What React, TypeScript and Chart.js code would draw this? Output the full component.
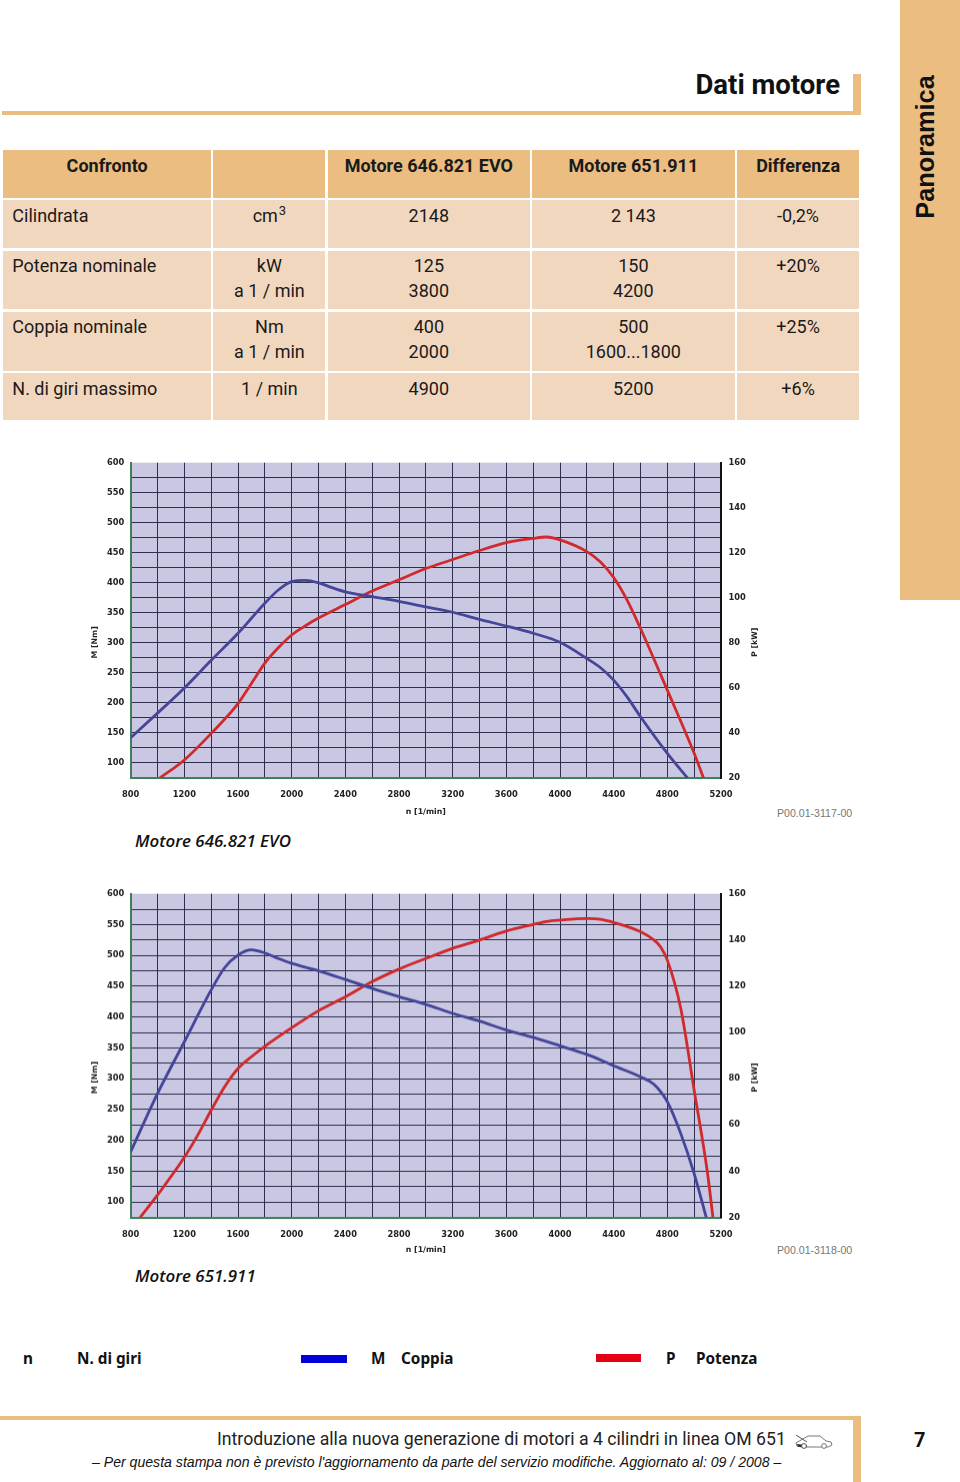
import React, { useEffect, useRef } from "react";
import { Chart, registerables } from "chart.js";

Chart.register(...registerables);

const rpmTorqueA = [800, 1000, 1200, 1400, 1600, 1700, 1800, 1900, 2000, 2100, 2200, 2300, 2400, 2600, 2800, 3000, 3200, 3400, 3600, 3800, 4000, 4200, 4300, 4400, 4500, 4600, 4800, 4950];
const torqueA = [142, 183, 225, 271, 316, 341, 366, 388, 402, 404, 400, 392, 385, 377, 369, 360, 351, 339, 328, 316, 301, 274, 259, 238, 210, 177, 116, 75];
const rpmPowerA = [1018, 1200, 1400, 1600, 1700, 1800, 1900, 2000, 2100, 2200, 2400, 2600, 2800, 3000, 3200, 3400, 3600, 3800, 3900, 4000, 4200, 4300, 4400, 4500, 4600, 4800, 5000, 5070];
const powerA = [20, 28, 39.8, 53, 62, 71, 77.8, 83.5, 87.5, 91, 97, 103, 108, 113, 117, 121, 124.5, 126.4, 127, 125.7, 120.5, 116, 109, 99, 86.4, 59, 31, 20];
const rpmTorqueB = [800, 1000, 1200, 1400, 1500, 1600, 1700, 1800, 1900, 2000, 2200, 2400, 2600, 2800, 3000, 3200, 3400, 3600, 3800, 4000, 4200, 4400, 4600, 4700, 4800, 4900, 5000, 5090];
const torqueB = [181.5, 276, 360, 444, 480, 500.5, 509, 504, 495, 487, 475, 461, 446.4, 433, 420.5, 406, 393.5, 379, 367, 353.4, 339.4, 321, 303, 291, 262.6, 211, 146, 75];
const rpmPowerB = [870, 1000, 1200, 1300, 1400, 1500, 1600, 1700, 1800, 2000, 2200, 2400, 2600, 2800, 3000, 3200, 3400, 3600, 3800, 3900, 4000, 4200, 4300, 4400, 4600, 4700, 4750, 4800, 4900, 5000, 5100, 5140];
const powerB = [20, 29.7, 46, 55.6, 66.4, 76.5, 84.4, 89.5, 94, 102, 109.4, 115.4, 122, 127.4, 132, 136.4, 140, 143.9, 146.7, 148, 148.6, 149.3, 149, 147.6, 143.6, 140, 137, 131.3, 110.4, 75, 39, 20];

const headerRow = ["Confronto", "", "Motore 646.821 EVO", "Motore 651.911", "Differenza"];
const tableRows = [
  ["Cilindrata", "cm^3", "2148", "2 143", "-0,2%"],
  ["Potenza nominale", "kW\na 1 / min", "125\n3800", "150\n4200", "+20%"],
  ["Coppia nominale", "Nm\na 1 / min", "400\n2000", "500\n1600...1800", "+25%"],
  ["N. di giri massimo", "1 / min", "4900", "5200", "+6%"],
];
const columnEdges = [[3.3, 211], [213.3, 325.5], [327.7, 530], [532, 734.7], [736.7, 859.5]];
const rowEdges = [[150.3, 198.3], [200, 248.3], [250.7, 309.3], [311.7, 370.7], [372.7, 420]];
const rowTextOffsets = [3.2, 3.0, 2.8, 2.8, 3.8];

const ORANGE = "#ebbd81";
const PEACH = "#f2d7bf";
const UI_FONT = "Roboto, sans-serif";
const LEGEND_FONT = "'Noto Sans', sans-serif";
const LABEL_FONT = "'Liberation Sans', sans-serif";
const AXIS_FONT = "DejaVu Sans";

const axisTitles = {
  id: "axisTitles",
  afterDraw(chart: any) {
    const { ctx, chartArea } = chart;
    const yMid = (chartArea.top + chartArea.bottom) / 2 + 22;
    ctx.save();
    ctx.font = `bold 7.8px '${AXIS_FONT}'`;
    ctx.fillStyle = "#222";
    ctx.textAlign = "center";
    ctx.textBaseline = "middle";
    [[chartArea.left - 35.5, "M [Nm]"], [chartArea.right + 34, "P [kW]"]].forEach(([x, label]: any) => {
      ctx.save();
      ctx.translate(x, yMid);
      ctx.rotate(-Math.PI / 2);
      ctx.fillText(label, 0, 0);
      ctx.restore();
    });
    ctx.restore();
  },
};

const plotFill = {
  id: "plotFill",
  beforeDraw(chart: any) {
    const { ctx, chartArea: a } = chart;
    ctx.save();
    ctx.fillStyle = "#c9c7e1";
    ctx.fillRect(a.left, a.top, a.right - a.left, a.bottom - a.top);
    ctx.restore();
  },
};

function EngineChart({ top, plotHeight, axisHeight, rpmT, torque, rpmP, power }: any) {
  const ref = useRef<HTMLCanvasElement>(null);
  const padTop = 12.7;
  const canvasLeft = 85;
  const width = 690;
  const height = padTop + plotHeight + axisHeight;
  useEffect(() => {
    const tickFont = { family: AXIS_FONT, size: 8.3, weight: "bold" as const };
    const chart = new Chart(ref.current!, {
      type: "line",
      data: {
        datasets: [
          {
            data: rpmT.map((x: number, i: number) => ({ x, y: torque[i] })),
            yAxisID: "m",
            borderColor: "#45459a",
            borderWidth: 2.8,
            pointRadius: 0,
            cubicInterpolationMode: "monotone",
          },
          {
            data: rpmP.map((x: number, i: number) => ({ x, y: power[i] })),
            yAxisID: "p",
            borderColor: "#d12a2c",
            borderWidth: 2.8,
            pointRadius: 0,
            cubicInterpolationMode: "monotone",
          },
        ],
      },
      options: {
        animation: false,
        responsive: false,
        layout: { padding: { top: padTop, left: 0, right: 0, bottom: 0 } },
        plugins: { legend: { display: false }, tooltip: { enabled: false } },
        scales: {
          x: {
            type: "linear",
            min: 800,
            max: 5200,
            afterFit: (s: any) => { s.height = axisHeight; },
            border: { color: "#3d8059", width: 2 },
            grid: { color: (c: any) => (c.tick && (c.tick.value === 800) ? "transparent" : "#2e2e4e"), lineWidth: 1, drawTicks: false },
            ticks: {
              stepSize: 200,
              autoSkip: false,
              maxRotation: 0,
              padding: 12,
              color: "#222",
              font: tickFont,
              callback: (v: any) => (Number(v) % 400 === 0 ? String(v) : ""),
            },
            title: { display: true, text: "n [1/min]", color: "#222", font: { family: AXIS_FONT, size: 7.8, weight: "bold" }, padding: 0 },
          },
          m: {
            type: "linear",
            position: "left",
            min: 75,
            max: 600,
            afterFit: (s: any) => { s.width = 130.7 - canvasLeft; },
            border: { color: "#3d8059", width: 2 },
            grid: { color: (c: any) => (c.tick && (c.tick.value === 600 || c.tick.value === 75) ? "transparent" : "#2e2e4e"), lineWidth: 1, drawTicks: false },
            ticks: {
              stepSize: 25,
              autoSkip: false,
              padding: 6.5,
              color: "#222",
              font: tickFont,
              callback: (v: any) => (Number(v) % 50 === 0 ? String(v) : ""),
            },
          },
          p: {
            type: "linear",
            position: "right",
            min: 20,
            max: 160,
            afterFit: (s: any) => { s.width = canvasLeft + width - 721; },
            border: { color: "#111", width: 2 },
            grid: { display: false, drawTicks: false },
            ticks: { stepSize: 20, padding: 7.5, color: "#222", font: tickFont },
          },
        },
      } as any,
      plugins: [plotFill, axisTitles],
    });
    return () => chart.destroy();
  }, []);
  return (
    <canvas
      ref={ref}
      width={width}
      height={height}
      style={{ position: "absolute", left: canvasLeft, top: top - padTop, width, height }}
    />
  );
}

const abs = (left: number, top: number, extra: any = {}) => ({ position: "absolute" as const, left, top, ...extra });

function Box({ x, y, w, h, color }: any) {
  return <div style={abs(x, y, { width: w, height: h, background: color })} />;
}

function Cell({ text, col, row, bold, left }: any) {
  const [x0, x1] = columnEdges[col];
  const [y0, y1] = rowEdges[row];
  const parts = String(text).split("^");
  return (
    <div
      style={abs(x0, y0, {
        width: x1 - x0,
        height: y1 - y0,
        background: row === 0 ? ORANGE : PEACH,
        boxSizing: "border-box",
        paddingTop: rowTextOffsets[row],
        paddingLeft: left ? 9 : 0,
        textAlign: left ? "left" : "center",
        whiteSpace: "pre",
        font: `${bold ? 700 : 400} 18px/25px ${UI_FONT}`,
        color: "#1a1a1a",
      })}
    >
      {parts[0]}
      {parts[1] ? <span style={{ fontSize: 13, position: "relative", top: -7, marginLeft: 1 }}>{parts[1]}</span> : null}
    </div>
  );
}

function Label({ x, y, children, style }: any) {
  return (
    <div style={abs(x, y, { transform: "translateY(-50%)", transformOrigin: "left center", whiteSpace: "pre", color: "#111", ...style })}>{children}</div>
  );
}

function Car() {
  return (
    <svg width="38" height="18" viewBox="0 0 38 18" style={abs(795, 1432)}>
      <path d="M1 11 L6 8 L13 4 L25 4 L31 9 L36 10 L37 13 L33 15 L7 15 L2 14 Z" fill="none" stroke="#777" strokeWidth="1" />
      <path d="M2 12 L12 13 L12 15 L3 15 Z" fill="#333" />
      <circle cx="9" cy="14" r="2.4" fill="#fff" stroke="#555" />
      <circle cx="29" cy="14" r="2.4" fill="#fff" stroke="#777" />
      <path d="M1 3 L12 10" stroke="#555" strokeWidth="1" />
    </svg>
  );
}

export default function App() {
  const legendFont = { font: `700 15.3px ${LEGEND_FONT}` };
  const captionFont = { font: `italic 600 16.9px 'Open Sans', sans-serif` };
  const codeFont = { font: `10.6px ${LABEL_FONT}`, color: "#777" };
  return (
    <div style={abs(0, 0, { width: 960, height: 1482, overflow: "hidden", background: "#fff" })}>
      <Box x={900} y={0} w={60} h={600} color={ORANGE} />
      <Box x={2} y={110.7} w={858.7} h={4} color={ORANGE} />
      <Box x={853} y={74} w={7.7} h={40.7} color={ORANGE} />
      <div style={abs(640, 68, { width: 200, textAlign: "right", font: `700 27.5px/34px ${UI_FONT}`, color: "#111" })}>Dati motore</div>
      <div
        style={abs(925, 147, {
          transform: "translate(-50%,-50%) rotate(-90deg)",
          font: `700 25.3px/30px ${LABEL_FONT}`,
          color: "#111",
          whiteSpace: "pre",
        })}
      >
        Panoramica
      </div>

      {headerRow.map((t, c) => <Cell key={c} text={t} col={c} row={0} bold />)}
      {tableRows.map((r, i) => r.map((t, c) => <Cell key={c} text={t} col={c} row={i + 1} left={c === 0} />))}

      <EngineChart top={462.7} plotHeight={315.3} axisHeight={39} rpmT={rpmTorqueA} torque={torqueA} rpmP={rpmPowerA} power={powerA} />
      <Label x={777} y={813} style={codeFont}>P00.01-3117-00</Label>
      <Label x={135} y={840} style={captionFont}>Motore 646.821 EVO</Label>

      <EngineChart top={893.7} plotHeight={323.6} axisHeight={37.5} rpmT={rpmTorqueB} torque={torqueB} rpmP={rpmPowerB} power={powerB} />
      <Label x={777} y={1250} style={codeFont}>P00.01-3118-00</Label>
      <Label x={135} y={1275} style={captionFont}>Motore 651.911</Label>

      <Label x={23} y={1358} style={legendFont}>n</Label>
      <Label x={77} y={1358} style={legendFont}>N. di giri</Label>
      <Box x={301} y={1355} w={46} h={8} color="#0000d8" />
      <Label x={371} y={1358} style={legendFont}>M</Label>
      <Label x={401} y={1358} style={legendFont}>Coppia</Label>
      <Box x={596} y={1354} w={45} h={8} color="#e60012" />
      <Label x={666} y={1358} style={legendFont}>P</Label>
      <Label x={696} y={1358} style={legendFont}>Potenza</Label>

      <Box x={0} y={1416} w={860.7} h={4} color={ORANGE} />
      <Box x={853} y={1416} w={7.7} h={66} color={ORANGE} />
      <Label x={217} y={1439} style={{ font: `17.7px ${UI_FONT}`, color: "#222" }}>Introduzione alla nuova generazione di motori a 4 cilindri in linea OM 651</Label>
      <Car />
      <Label x={92} y={1462} style={{ font: `italic 14.1px ${LABEL_FONT}`, color: "#111" }}>– Per questa stampa non è previsto l'aggiornamento da parte del servizio modifiche. Aggiornato al: 09 / 2008 –</Label>
      <Label x={914} y={1440} style={{ font: `700 20px ${UI_FONT}` }}>7</Label>
    </div>
  );
}
